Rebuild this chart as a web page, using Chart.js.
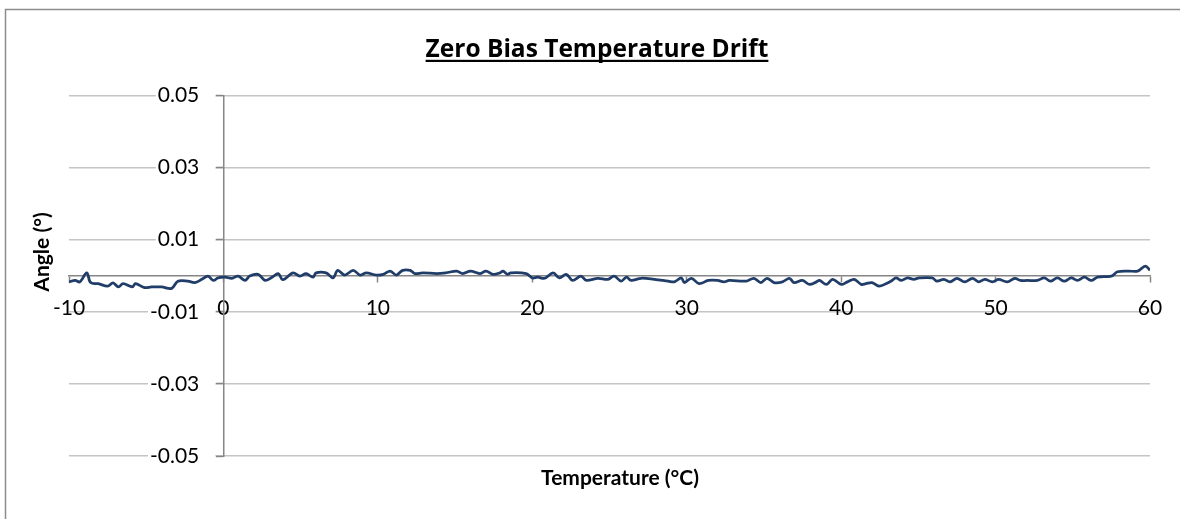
<!DOCTYPE html>
<html>
<head>
<meta charset="utf-8">
<script src="https://cdn.jsdelivr.net/npm/chart.js@4.4.1/dist/chart.umd.min.js"></script>
<style>
  html, body { margin: 0; padding: 0; background: #fff; overflow: hidden; }
  #wrap { position: absolute; left: 0; top: 0; width: 1180px; height: 519px; }
</style>
</head>
<body>
<div id="wrap"><canvas id="driftChart"></canvas></div>
<script>
const chartTitle = 'Zero Bias Temperature Drift';
const xTitle = 'Temperature (°C)';
const yTitle = 'Angle (°)';

const xTicks = [-10, 0, 10, 20, 30, 40, 50, 60];
const yTicks = [-0.05, -0.03, -0.01, 0.01, 0.03, 0.05];

// temperature (°C)
const temps = [
    -10, -9.6, -9.3, -8.85, -8.6, -8.1, -7.5, -7.15, -6.8, -6.5,
    -5.9, -5.7, -5.1, -4.65, -4.0, -3.35, -2.95, -2.3, -1.85, -1.4,
    -1.0, -0.65, -0.35, 0.1, 0.55, 0.95, 1.4, 1.7, 2.25, 2.7,
    3.15, 3.55, 3.85, 4.5, 4.95, 5.35, 5.8, 6.0, 6.65, 7.1,
    7.4, 7.85, 8.4, 8.85, 9.25, 9.9, 10.35, 10.8, 11.2, 11.6,
    12.1, 12.4, 12.9, 13.8, 14.4, 15.1, 15.5, 16.0, 16.6, 17.0,
    17.45, 17.9, 18.1, 18.4, 18.6, 19.6, 20.0, 20.35, 20.8, 21.35,
    21.75, 22.2, 22.6, 23.15, 23.5, 24.25, 24.9, 25.3, 25.75, 26.1,
    26.4, 27.05, 27.9, 28.8, 29.2, 29.65, 29.85, 30.3, 30.8, 31.4,
    32.0, 32.4, 32.75, 33.85, 34.35, 34.8, 35.2, 35.65, 36.2, 36.65,
    36.95, 37.5, 37.95, 38.4, 38.6, 39.05, 39.45, 40.0, 40.4, 40.85,
    41.3, 41.6, 42.0, 42.45, 42.9, 43.3, 43.55, 43.9, 44.3, 44.7,
    45.05, 45.9, 46.2, 46.65, 47.05, 47.5, 48.0, 48.5, 48.9, 49.3,
    49.8, 50.2, 50.75, 51.25, 51.6, 52.05, 52.7, 53.15, 53.55, 54.0,
    54.45, 54.9, 55.3, 55.75, 56.2, 56.6, 57.5, 57.9, 58.6, 59.2,
    59.7, 60.0
];

// zero bias angle (°)
const angles = [
    -0.0017, -0.0013, -0.0017, 0.0008, -0.0019, -0.0022, -0.0029, -0.0020, -0.0031, -0.0022,
    -0.0031, -0.0022, -0.0033, -0.0031, -0.0031, -0.0035, -0.0015, -0.0015, -0.0019, -0.0010,
    -0.0001, -0.0013, -0.0006, -0.0004, -0.0007, -0.0001, -0.0013, -0.0001, 0.0004, -0.0013,
    -0.0004, 0.0006, -0.0011, 0.0008, -0.0001, 0.0006, -0.0004, 0.0008, 0.0008, -0.0006,
    0.0015, 0.0002, 0.0015, 0.0002, 0.0008, 0.0002, 0.0004, 0.0013, 0.0002, 0.0015,
    0.0015, 0.0006, 0.0008, 0.0006, 0.0008, 0.0013, 0.0006, 0.0013, 0.0006, 0.0013,
    0.0004, 0.0008, 0.0013, 0.0004, 0.0008, 0.0006, -0.0006, -0.0004, -0.0007, 0.0008,
    -0.0006, 0.0004, -0.0013, -0.0001, -0.0013, -0.0007, -0.0010, -0.0001, -0.0015, -0.0004,
    -0.0013, -0.0007, -0.0010, -0.0015, -0.0017, -0.0006, -0.0019, -0.0007, -0.0022, -0.0013,
    -0.0013, -0.0017, -0.0013, -0.0015, -0.0007, -0.0019, -0.0007, -0.0019, -0.0017, -0.0007,
    -0.0019, -0.0013, -0.0024, -0.0017, -0.0013, -0.0024, -0.0010, -0.0024, -0.0017, -0.0010,
    -0.0024, -0.0022, -0.0019, -0.0029, -0.0022, -0.0013, -0.0006, -0.0013, -0.0006, -0.0010,
    -0.0006, -0.0006, -0.0015, -0.0010, -0.0017, -0.0007, -0.0017, -0.0007, -0.0017, -0.0010,
    -0.0017, -0.0010, -0.0017, -0.0007, -0.0013, -0.0013, -0.0013, -0.0006, -0.0015, -0.0006,
    -0.0015, -0.0006, -0.0013, -0.0004, -0.0013, -0.0004, -0.0001, 0.0011, 0.0013, 0.0013,
    0.0027, 0.0015
];

const axisGrey = '#868686';
const gridGrey = '#c4c4c4';
const tickFont = { family: 'Lato', size: 21 };

// scales sit inside the plot area, so they must not take any layout room
function noRoom(s) {
    if (s.isHorizontal()) s.height = 0; else s.width = 0;
    s.paddingTop = 0;
    s.paddingBottom = 0;
    s.paddingLeft = 0;
    s.paddingRight = 0;
}

// outer frame (only left and top edges are inside the picture)
const framePlugin = {
    id: 'frame',
    beforeDraw(chart) {
        const ctx = chart.ctx;
        ctx.save();
        ctx.strokeStyle = '#8c8c8c';
        ctx.lineWidth = 1.5;
        ctx.beginPath();
        ctx.moveTo(5.5, chart.height);
        ctx.lineTo(5.5, 9.5);
        ctx.lineTo(chart.width, 9.5);
        ctx.stroke();
        ctx.restore();
    }
};

// title, axis titles (Excel-style placement)
const titlesPlugin = {
    id: 'titles',
    afterDraw(chart) {
        const ctx = chart.ctx;
        ctx.save();
        ctx.fillStyle = '#000';
        ctx.textAlign = 'center';

        ctx.textBaseline = 'alphabetic';
        ctx.font = 'bold 24.5px "Open Sans"';
        const tx = 597;
        ctx.fillText(chartTitle, tx, 57);
        const w = ctx.measureText(chartTitle).width;
        ctx.fillRect(tx - w / 2, 59.8, w, 2.2);

        ctx.textBaseline = 'middle';
        ctx.font = 'bold 21px Lato';
        ctx.fillText(xTitle, 620, 478);

        ctx.translate(42, 252);
        ctx.rotate(-Math.PI / 2);
        ctx.fillText(yTitle, 0, 0);
        ctx.restore();
    }
};

const ctx = document.getElementById('driftChart').getContext('2d');

new Chart(ctx, {
    type: 'line',
    data: {
        datasets: [{
            label: 'Zero bias',
            data: temps.map((t, i) => ({ x: t, y: angles[i] })),
            borderColor: '#1f3d68',
            borderWidth: 2.75,
            pointRadius: 0,
            tension: 0.35,
            xAxisID: 'x',
            yAxisID: 'y'
        }]
    },
    options: {
        responsive: true,
        maintainAspectRatio: false,
        animation: false,
        devicePixelRatio: 1,
        layout: {
            padding: { left: 69, right: 30, top: 95.5, bottom: 63 }
        },
        plugins: {
            legend: { display: false },
            tooltip: { enabled: false }
        },
        scales: {
            x: {
                type: 'linear',
                position: { y: 0 },
                min: -10,
                max: 60,
                afterBuildTicks: s => { s.ticks = xTicks.map(v => ({ value: v })); },
                afterFit: noRoom,
                grid: {
                    drawOnChartArea: false,
                    drawTicks: true,
                    tickLength: 6,
                    tickColor: axisGrey,
                    tickWidth: 1.5
                },
                border: { display: true, color: axisGrey, width: 1.5 },
                ticks: {
                    color: '#000',
                    font: tickFont,
                    padding: 14,
                    maxRotation: 0,
                    autoSkip: false,
                    callback: v => String(v)
                }
            },
            y: {
                type: 'linear',
                position: 'left',
                min: -0.05,
                max: 0.05,
                afterBuildTicks: s => { s.ticks = yTicks.map(v => ({ value: v })); },
                afterFit: noRoom,
                grid: {
                    color: gridGrey,
                    lineWidth: 1.5,
                    drawTicks: false
                },
                border: { display: false },
                ticks: {
                    color: '#000',
                    font: tickFont,
                    mirror: true,
                    crossAlign: 'far',
                    padding: 81,
                    autoSkip: false,
                    showLabelBackdrop: true,
                    backdropColor: '#fff',
                    backdropPadding: { left: 2, right: 16, top: 0, bottom: 0 },
                    callback: v => v.toFixed(2)
                }
            },
            yAxis: {
                type: 'linear',
                position: { x: 0 },
                min: -0.05,
                max: 0.05,
                afterBuildTicks: s => { s.ticks = yTicks.map(v => ({ value: v })); },
                afterFit: noRoom,
                grid: {
                    drawOnChartArea: false,
                    drawTicks: true,
                    tickLength: 7,
                    tickColor: axisGrey,
                    tickWidth: 1.5
                },
                border: { display: true, color: axisGrey, width: 1.5 },
                ticks: { display: false }
            }
        }
    },
    plugins: [framePlugin, titlesPlugin]
});
</script>
</body>
</html>
